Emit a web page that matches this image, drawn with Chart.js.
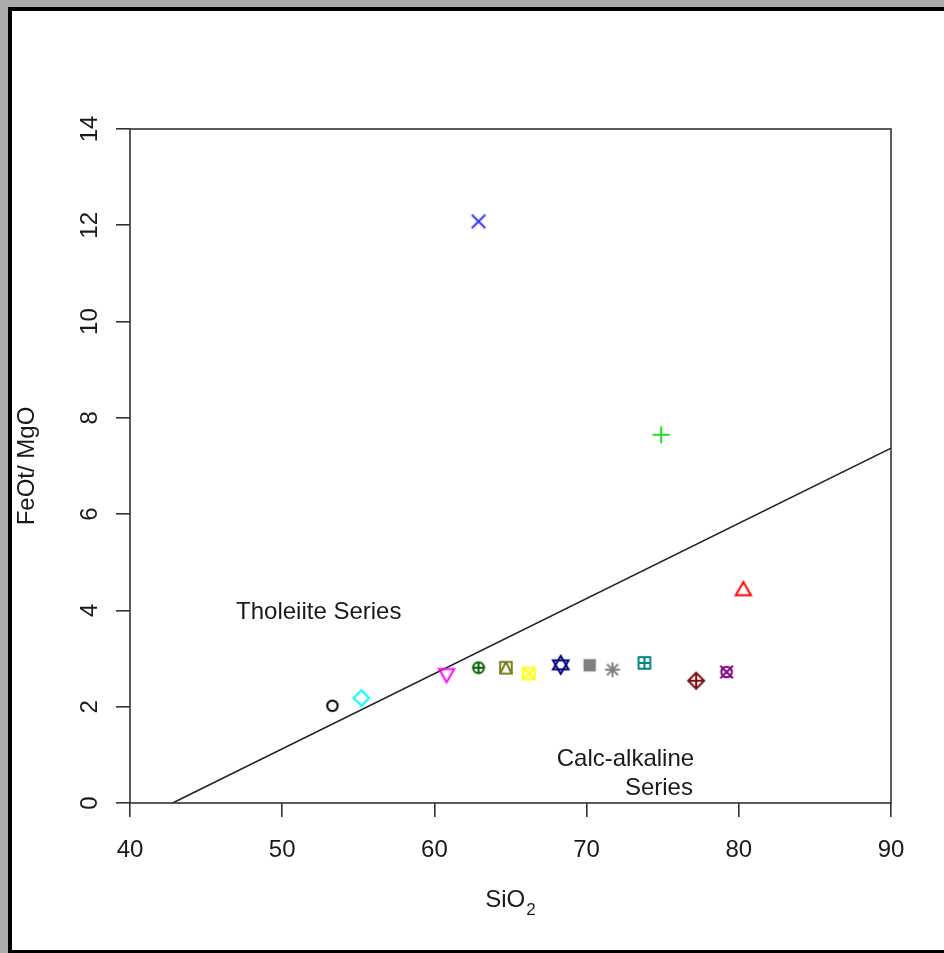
<!DOCTYPE html>
<html>
<head>
<meta charset="utf-8">
<script src="https://cdn.jsdelivr.net/npm/chart.js@4.4.1/dist/chart.umd.min.js"></script>
<style>
  html, body { margin: 0; padding: 0; }
  body { width: 944px; height: 953px; position: relative; overflow: hidden; background: #ababab; }
  #frame {
    position: absolute; left: 8px; top: 7px; width: 936px; height: 946px;
    box-sizing: border-box; background: #fff;
    border-left: 4px solid #000; border-top: 4px solid #000; border-bottom: 3px solid #000;
  }
  #plot { position: absolute; left: 0; top: 0; }
</style>
</head>
<body>
<div id="frame"></div>
<canvas id="plot" width="944" height="953"></canvas>
<script>
(function() {

    // samples: SiO2 vs FeOt/MgO
    var sio2   = [53.3, 55.2, 60.8, 62.9, 64.7, 66.2, 68.3, 70.2, 71.7, 73.8, 77.2, 79.2, 80.3, 62.9, 74.9];
    var feoMgo = [2.02, 2.18, 2.69, 2.81, 2.81, 2.69, 2.87, 2.86, 2.77, 2.91, 2.54, 2.72, 4.41, 12.08, 7.65];
    var symbols = ['circle', 'diamond', 'triDown', 'circlePlus', 'squareTri', 'squareX', 'david', 'squareFill',
                   'asterisk', 'squarePlus', 'diamondPlus', 'circleX', 'triUp', 'x', 'plus'];
    var colors = ['#000000', '#00ffff', '#ff00ff', '#006400', '#7a7a20', '#ffff00', '#000080', '#808080',
                  '#808080', '#008080', '#801010', '#800080', '#ff0000', '#3333ff', '#22dd22'];

    // Tholeiite / Calc-alkaline divide
    var lineSio2 = [42.8, 90];
    var lineRatio = [0, 7.37];

    var xTicks = [40, 50, 60, 70, 80, 90];
    var yTicks = [0, 2, 4, 6, 8, 10, 12, 14];

    var fieldLabels = ['Tholeiite Series', 'Calc-alkaline', 'Series'];
    var fieldX = [52.4, 72.55, 74.75];
    var fieldY = [3.99, 0.955, 0.353];

    var FONT = "'Liberation Sans', Arial, sans-serif";
    var INK = '#1a1a1a';

    function makeSymbol(kind, color) {
        var c = document.createElement('canvas');
        c.width = 30; c.height = 30;
        var g = c.getContext('2d');
        g.translate(15, 15);
        g.strokeStyle = color;
        g.fillStyle = color;
        g.lineWidth = 2;
        function seg(x1, y1, x2, y2) { g.beginPath(); g.moveTo(x1, y1); g.lineTo(x2, y2); g.stroke(); }
        function poly(p) {
            g.beginPath(); g.moveTo(p[0][0], p[0][1]);
            for (var i = 1; i < p.length; i++) g.lineTo(p[i][0], p[i][1]);
            g.closePath(); g.stroke();
        }
        function circ(r) { g.beginPath(); g.arc(0, 0, r, 0, Math.PI * 2); g.stroke(); }
        function tri(r, s) { poly([[0, -r * s], [0.866 * r, 0.5 * r * s], [-0.866 * r, 0.5 * r * s]]); }
        switch (kind) {
            case 'circle': circ(5.2); break;
            case 'diamond': poly([[0, -7.8], [7.8, 0], [0, 7.8], [-7.8, 0]]); break;
            case 'triDown': tri(8.8, -1); break;
            case 'triUp': tri(8.8, 1); break;
            case 'circlePlus': circ(5.5); seg(-5.5, 0, 5.5, 0); seg(0, -5.5, 0, 5.5); break;
            case 'squareTri': g.strokeRect(-5.8, -5.8, 11.6, 11.6); seg(-5.8, 5.8, 0, -5.8); seg(0, -5.8, 5.8, 5.8); break;
            case 'squareX': g.strokeRect(-5.8, -5.8, 11.6, 11.6); seg(-5.8, -5.8, 5.8, 5.8); seg(-5.8, 5.8, 5.8, -5.8); break;
            case 'squarePlus': g.strokeRect(-5.8, -5.8, 11.6, 11.6); seg(-5.8, 0, 5.8, 0); seg(0, -5.8, 0, 5.8); break;
            case 'squareFill': g.fillRect(-6.2, -6.2, 12.4, 12.4); break;
            case 'david': tri(9, 1); tri(9, -1); break;
            case 'asterisk': seg(-7.5, 0, 7.5, 0); seg(0, -7.5, 0, 7.5); seg(-5.5, -5.5, 5.5, 5.5); seg(-5.5, 5.5, 5.5, -5.5); break;
            case 'diamondPlus': poly([[0, -8], [8, 0], [0, 8], [-8, 0]]); seg(-8, 0, 8, 0); seg(0, -8, 0, 8); break;
            case 'circleX': circ(5.3); seg(-6.3, -6.3, 6.3, 6.3); seg(-6.3, 6.3, 6.3, -6.3); break;
            case 'x': seg(-6.8, -6.8, 6.8, 6.8); seg(-6.8, 6.8, 6.8, -6.8); break;
            case 'plus': seg(-8.6, 0, 8.6, 0); seg(0, -8.6, 0, 8.6); break;
        }
        return c;
    }

    var points = sio2.map(function(x, i) { return { x: x, y: feoMgo[i] }; });
    var pointImages = symbols.map(function(s, i) { return makeSymbol(s, colors[i]); });
    var boundary = lineSio2.map(function(x, i) { return { x: x, y: lineRatio[i] }; });

    // box, rotated y labels, axis titles, field names
    var rDecor = {
        id: 'rDecor',
        afterDraw: function(chart) {
            var ctx = chart.ctx, a = chart.chartArea;
            var xs = chart.scales.x, ys = chart.scales.y;
            ctx.save();
            ctx.strokeStyle = '#333';
            ctx.lineWidth = 1.6;
            ctx.strokeRect(a.left, a.top, a.right - a.left, a.bottom - a.top);

            ctx.fillStyle = INK;
            ctx.font = '24px ' + FONT;
            ctx.textAlign = 'center';
            ctx.textBaseline = 'alphabetic';
            ys.ticks.forEach(function(t) {
                ctx.save();
                ctx.translate(96.5, ys.getPixelForValue(t.value));
                ctx.rotate(-Math.PI / 2);
                ctx.fillText(String(t.value), 0, 0);
                ctx.restore();
            });

            // y title
            ctx.save();
            ctx.translate(34, (a.top + a.bottom) / 2);
            ctx.rotate(-Math.PI / 2);
            ctx.fillText('FeOt/ MgO', 0, 0);
            ctx.restore();

            // x title with subscript
            ctx.textAlign = 'left';
            var w1 = ctx.measureText('SiO').width;
            ctx.font = '17px ' + FONT;
            var w2 = ctx.measureText('2').width;
            var x0 = (a.left + a.right) / 2 - (w1 + w2 + 1) / 2;
            ctx.font = '24px ' + FONT;
            ctx.fillText('SiO', x0, 907);
            ctx.font = '17px ' + FONT;
            ctx.fillText('2', x0 + w1 + 1, 915);

            // field labels
            ctx.font = '24px ' + FONT;
            ctx.textAlign = 'center';
            fieldLabels.forEach(function(txt, i) {
                ctx.fillText(txt, xs.getPixelForValue(fieldX[i]), ys.getPixelForValue(fieldY[i]) + 8.5);
            });
            ctx.restore();
        }
    };

    new Chart(document.getElementById('plot').getContext('2d'), {
        type: 'scatter',
        data: {
            datasets: [{
                label: 'samples',
                data: points,
                pointStyle: pointImages,
                pointRadius: 8,
                pointHoverRadius: 8
            }, {
                type: 'line',
                label: 'divide',
                data: boundary,
                borderColor: '#222',
                borderWidth: 1.6,
                pointRadius: 0,
                fill: false
            }]
        },
        options: {
            responsive: false,
            animation: false,
            devicePixelRatio: 1,
            layout: { padding: { left: 0, top: 129, right: 53, bottom: 0 } },
            plugins: { legend: { display: false }, tooltip: { enabled: false } },
            scales: {
                x: {
                    type: 'linear',
                    min: 40, max: 90,
                    afterBuildTicks: function(s) { s.ticks = xTicks.map(function(v) { return { value: v }; }); },
                    afterFit: function(s) { s.height = 150; },
                    border: { display: false },
                    grid: { drawOnChartArea: false, drawTicks: true, tickLength: 14, tickColor: '#333', lineWidth: 1.6 },
                    ticks: { color: INK, font: { family: FONT, size: 24 }, padding: 19, maxRotation: 0, autoSkip: false }
                },
                y: {
                    type: 'linear',
                    min: 0, max: 14,
                    afterBuildTicks: function(s) { s.ticks = yTicks.map(function(v) { return { value: v }; }); },
                    afterFit: function(s) { s.width = 130; },
                    border: { display: false },
                    grid: { drawOnChartArea: false, drawTicks: true, tickLength: 14, tickColor: '#333', lineWidth: 1.6 },
                    ticks: { color: 'rgba(0,0,0,0)', font: { family: FONT, size: 24 }, autoSkip: false }
                }
            }
        },
        plugins: [rDecor]
    });

})()
</script>
</body>
</html>
